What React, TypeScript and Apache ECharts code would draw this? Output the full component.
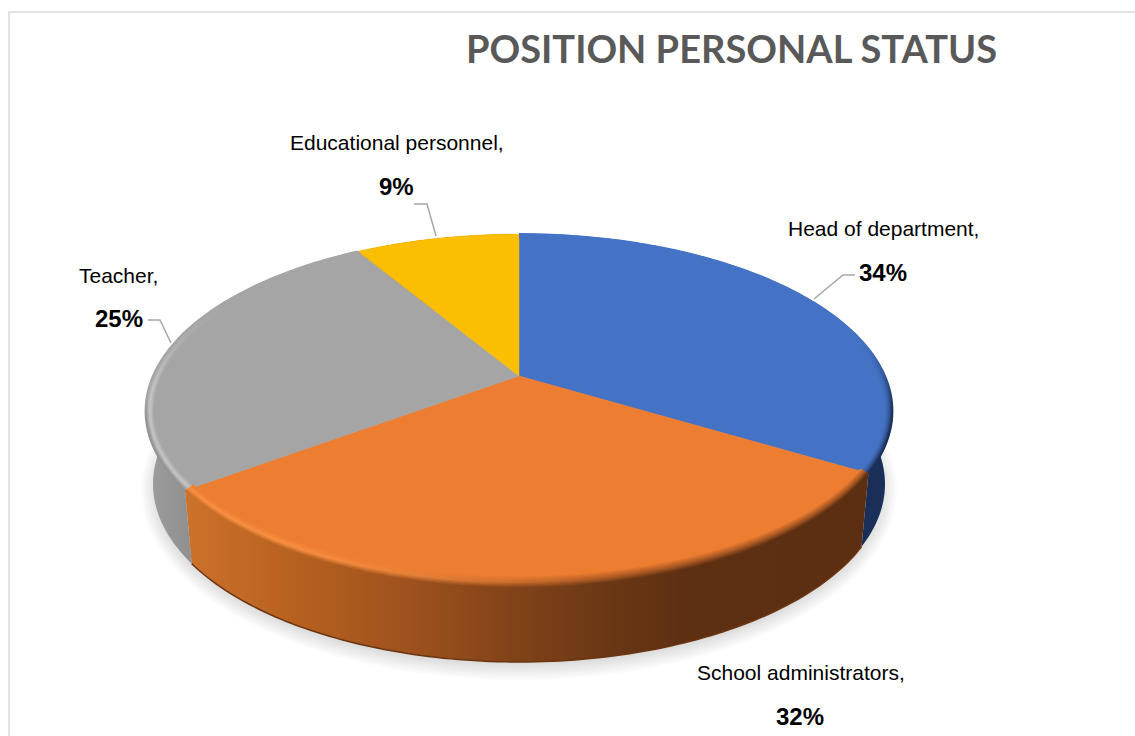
import React, { useEffect, useRef } from "react";
import * as echarts from "echarts";

const titleText = "POSITION PERSONAL STATUS";
const categories = ["Head of department", "School administrators", "Teacher", "Educational personnel"];
const percentLabels = ["34%", "32%", "25%", "9%"];
// Slice sizes as they appear on the 3D disc (percent of the turn)
const drawnShares = [33.6, 31.3, 26.5, 8.6];
const faceColors = ["#4472c4", "#ed7d31", "#a5a5a5", "#fcbe00"];

// Projection of the disc
const CX = 519, CY = 376, AX = 366, BY = 170, K = 0.198;
const TOP_CY = 411, TOP_RX = 373.4, TOP_RY = 177;
const BOT_CY = 484, BOT_RX = 366, BOT_RY = 178;

const hex = (c: string) => [1, 3, 5].map((i) => parseInt(c.slice(i, i + 2), 16));
const mix = (a: string, b: string, f: number) => {
  const p = hex(a), q = hex(b), t = Math.max(0, Math.min(1, f));
  return "#" + p.map((v, i) => Math.round(v + (q[i] - v) * t).toString(16).padStart(2, "0")).join("");
};
const smooth = (a: number, b: number, x: number) => {
  const t = Math.max(0, Math.min(1, (x - a) / (b - a)));
  return t * t * (3 - 2 * t);
};

const rim = (deg: number) => {
  const r = (deg * Math.PI) / 180;
  const X = Math.sin(r), Y = -Math.cos(r), w = 1 - K * Y;
  return [CX + (AX * X) / w, CY + (BY * Y) / w];
};
const param = (p: number[]) => [(p[0] - CX) / TOP_RX, (p[1] - TOP_CY) / TOP_RY];
const base = (p: number[]) => {
  const [c, s] = param(p);
  return [CX + BOT_RX * c, BOT_CY + BOT_RY * s];
};
const inset = (p: number[], b: number) => {
  const [c, s] = param(p);
  return [p[0] - 8 * b * c, p[1] - (s > 0 ? 12 : 4) * b * s];
};
const arcAngles = (a: number, z: number) => {
  const out: number[] = [];
  const n = Math.max(2, Math.ceil(z - a));
  for (let i = 0; i <= n; i++) out.push(a + ((z - a) * i) / n);
  return out;
};

const orangeWallStops: [number, string][] = [
  [190, "#cb712a"], [300, "#b6601f"], [400, "#a0531e"], [500, "#854419"], [600, "#6c3815"], [680, "#5e3012"], [865, "#5d2f12"],
];
const orangeWall = (x: number) => {
  for (let i = 1; i < orangeWallStops.length; i++) {
    const [x0, c0] = orangeWallStops[i - 1], [x1, c1] = orangeWallStops[i];
    if (x <= x1) return mix(c0, c1, (x - x0) / (x1 - x0));
  }
  return orangeWallStops[orangeWallStops.length - 1][1];
};
const wallFill = (i: number) => {
  if (i === 1) {
    return new echarts.graphic.LinearGradient(190, 0, 865, 0,
      orangeWallStops.map(([x, c]) => ({ offset: (x - 190) / 675, color: c })), true);
  }
  if (i === 2) {
    return new echarts.graphic.LinearGradient(146, 0, 195, 0,
      [{ offset: 0, color: "#9e9e9e" }, { offset: 1, color: "#8e8e8e" }], true);
  }
  return i === 0 ? "#1a2f57" : "#8a6a00";
};

const bandColor = (i: number, pos: number, b: number) => {
  const face = faceColors[i];
  if (i === 1) {
    const wall = orangeWall(pos);
    const h = 1 - smooth(260, 640, pos);
    const mid = mix(mix(face, wall, 0.5), "#f98f42", h);
    return b < 0.55 ? mix(face, mid, b / 0.55) : mix(mid, wall, (b - 0.55) / 0.45);
  }
  if (i === 2) {
    const s = smooth(300, 400, pos);
    const mid = mix(face, "#c6c6c6", s);
    const outer = mix(face, "#939393", smooth(395, 420, pos));
    return b < 0.55 ? mix(face, mid, b / 0.55) : mix(mid, outer, (b - 0.55) / 0.45);
  }
  const s = smooth(335, 425, pos);
  return mix(face, "#1a2f57", b * b * s);
};

const starts = drawnShares.map((_, i) => drawnShares.slice(0, i).reduce((a, v) => a + v, 0));
const sliceData = categories.map((name, i) => ({
  name,
  value: [(starts[i] * 360) / 100, ((starts[i] + drawnShares[i]) * 360) / 100, i],
}));

const renderShadow = (params: any) => {
  if (params.dataIndex !== 0) return { type: "group", children: [] };
  const children: any[] = [];
  for (let i = 0; i < 10; i++) {
    const pts: number[][] = [];
    for (let a = 0; a < 360; a += 3) {
      const r = (a * Math.PI) / 180;
      pts.push([CX + (378 - 2 * i) * Math.cos(r), 490 + (190 - 2 * i) * Math.sin(r)]);
    }
    children.push({ type: "polygon", shape: { points: pts }, style: { fill: "#000", opacity: 0.016 } });
  }
  return { type: "group", children };
};

const renderWall = (_: any, api: any) => {
  const a = api.value(0), z = api.value(1), i = api.value(2);
  const top = arcAngles(a, z).map(rim);
  const bottom = top.map(base);
  const children: any[] = [
    { type: "polygon", shape: { points: top.concat(bottom.slice().reverse()) }, style: { fill: wallFill(i) } },
  ];
  if (i === 1) {
    children.push({ type: "polyline", shape: { points: bottom }, style: { stroke: "#6b3510", lineWidth: 1.5, fill: "none" } });
  }
  return { type: "group", children };
};

const renderFace = (_: any, api: any) => {
  const a = api.value(0), z = api.value(1), i = api.value(2);
  const pts = [[CX, CY]].concat(arcAngles(a, z).map(rim));
  return { type: "polygon", shape: { points: pts }, style: { fill: faceColors[i], stroke: faceColors[i], lineWidth: 0.5 } };
};

const renderBevel = (_: any, api: any) => {
  const a = api.value(0), z = api.value(1), i = api.value(2);
  if (i === 3) return { type: "group", children: [] };
  const N = 9;
  const useX = i === 1;
  const from = useX ? 185 : 300, to = useX ? 870 : 500;
  const outer = arcAngles(a, z).map(rim);
  const children: any[] = [];
  for (let k = 0; k <= N; k++) {
    const b = k / N;
    const stops = [];
    for (let s = 0; s <= 14; s++) {
      const pos = from + ((to - from) * s) / 14;
      stops.push({ offset: s / 14, color: bandColor(i, pos, b) });
    }
    const grad = useX
      ? new echarts.graphic.LinearGradient(from, 0, to, 0, stops, true)
      : new echarts.graphic.LinearGradient(0, from, 0, to, stops, true);
    children.push({
      type: "polyline",
      shape: { points: outer.map((p) => inset(p, 1 - b)) },
      style: { stroke: grad, lineWidth: 2, fill: "none" },
    });
  }
  return { type: "group", children };
};

const FONT = "'Liberation Sans', Arial, sans-serif";
const nameLabelAt: [number, number][] = [[788, 228], [697, 672], [79, 275], [290, 142]];
const percentLabelAt: [number, number][] = [[859, 272], [776, 716], [95, 318], [379, 186]];
const leaders: number[][][] = [
  [[855, 275], [843, 275], [814, 299]],
  [],
  [[148, 320], [160, 320], [171, 343]],
  [[414, 204], [427, 204], [436, 236]],
];

export default function App() {
  const ref = useRef<HTMLDivElement>(null);
  useEffect(() => {
    const chart = echarts.init(ref.current!, null, { renderer: "svg" });
    const custom = (name: string, z: number, renderItem: any) => ({
      type: "custom", name, coordinateSystem: "none", z, silent: true, clip: false, data: sliceData, renderItem,
    });
    chart.setOption({
      animation: false,
      backgroundColor: "#ffffff",
      title: {
        text: titleText, left: 461, top: 24,
        textStyle: { fontFamily: "Lato", fontWeight: "bold", fontSize: 38, color: "#595959" },
      },
      series: [
        custom("shadow", 1, renderShadow),
        custom("sides", 2, renderWall),
        custom("faces", 3, renderFace),
        custom("bevel", 4, renderBevel),
      ],
      graphic: [
        {
          type: "polyline", z: 0,
          shape: { points: [[9, 736], [9, 12], [1135, 12]] },
          style: { stroke: "#d9d9d9", lineWidth: 1.5, fill: "none" },
        },
        ...categories.map((c, i) => ({
          type: "text", x: nameLabelAt[i][0], y: nameLabelAt[i][1],
          style: { text: c + ",", fill: "#000", font: `21px ${FONT}`, textVerticalAlign: "middle" },
        })),
        ...percentLabels.map((c, i) => ({
          type: "text", x: percentLabelAt[i][0], y: percentLabelAt[i][1],
          style: { text: c, fill: "#000", font: `bold 24px ${FONT}`, textVerticalAlign: "middle" },
        })),
        ...leaders.filter((l) => l.length).map((l) => ({
          type: "polyline", shape: { points: l },
          style: { stroke: "#a6a6a6", lineWidth: 1.5, fill: "none" },
        })),
      ],
    });
    return () => chart.dispose();
  }, []);
  return <div ref={ref} style={{ position: "fixed", left: 0, top: 0, width: 1135, height: 736 }} />;
}
